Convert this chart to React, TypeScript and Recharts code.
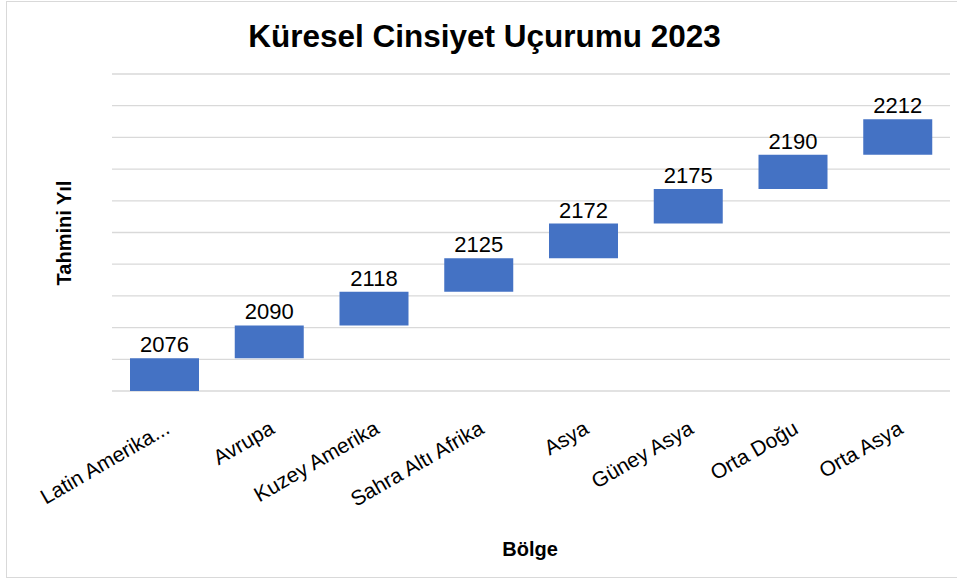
import { BarChart, Bar, XAxis, YAxis, CartesianGrid, LabelList } from 'recharts'

// regions in display order, with the estimated year the gap closes
const regions = [
  'Latin Amerika...', 'Avrupa', 'Kuzey Amerika', 'Sahra Altı Afrika',
  'Asya', 'Güney Asya', 'Orta Doğu', 'Orta Asya',
]
const years = [2076, 2090, 2118, 2125, 2172, 2175, 2190, 2212]

// floating step bars (bottom / top, in grid units)
const barLows = [0, 1.03, 2.07, 3.13, 4.19, 5.28, 6.37, 7.45]
const barHighs = [1.03, 2.07, 3.13, 4.19, 5.28, 6.37, 7.45, 8.57]

const yTicks = [0, 1, 2, 3, 4, 5, 6, 7, 8, 9, 10]

const data = regions.map((region, i) => ({
  region,
  year: years[i],
  range: [barLows[i], barHighs[i]],
}))

const FONT = '"Liberation Sans", Arial, sans-serif'

const RegionTick = ({ x, y, payload }: any) => (
  <text
    x={x + 3}
    y={y + 35}
    dy="0.35em"
    textAnchor="end"
    transform={`rotate(-30, ${x + 3}, ${y + 35})`}
    fontSize={21}
    fontFamily={FONT}
    fill="#000"
  >
    {payload.value}
  </text>
)

const App = () => (
  <div style={{ position: 'absolute', left: 0, top: 0, width: 957, height: 579, overflow: 'hidden', background: '#fff', fontFamily: FONT }}>
    <div style={{ position: 'absolute', left: 6, top: 1, width: 960, height: 577, boxSizing: 'border-box', border: '1px solid #d9d9d9' }} />
    <div style={{ position: 'absolute', left: 0, top: 21, width: 969, textAlign: 'center', fontSize: 31.5, fontWeight: 700, lineHeight: 1, color: '#000' }}>
      Küresel Cinsiyet Uçurumu 2023
    </div>
    <div style={{ position: 'absolute', left: 430, top: 539, width: 200, textAlign: 'center', fontSize: 20, fontWeight: 700, lineHeight: 1, color: '#000' }}>
      Bölge
    </div>
    <div style={{ position: 'absolute', left: 63.5, top: 233, transform: 'translate(-50%, -50%) rotate(-90deg)', whiteSpace: 'nowrap', fontSize: 20, fontWeight: 700, lineHeight: 1, color: '#000' }}>
      Tahmini Yıl
    </div>
    <BarChart
      width={957}
      height={579}
      data={data}
      margin={{ top: 74, right: 7, left: 112, bottom: 158 }}
      style={{ position: 'absolute', left: 0, top: 0 }}
    >
      <CartesianGrid vertical={false} stroke="#d9d9d9" strokeWidth={1.3} />
      <YAxis hide domain={[0, 10]} ticks={yTicks} />
      <XAxis
        dataKey="region"
        height={30}
        interval={0}
        axisLine={false}
        tickLine={false}
        tickSize={0}
        tickMargin={0}
        tick={<RegionTick />}
      />
      <Bar dataKey="range" fill="#4472c4" barSize={69} isAnimationActive={false}>
        <LabelList dataKey="year" position="top" offset={6} fontSize={22} fontFamily={FONT} fill="#000" />
      </Bar>
    </BarChart>
  </div>
)

export default App
